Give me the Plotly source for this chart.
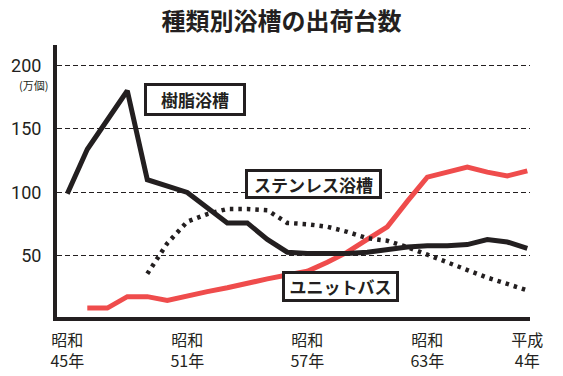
import plotly.graph_objects as go

years = [1970, 1971, 1972, 1973, 1974, 1975, 1976, 1977, 1978, 1979, 1980, 1981,
         1982, 1983, 1984, 1985, 1986, 1987, 1988, 1989, 1990, 1991, 1992, 1993]

resin = [99, 134, 157, 180, 110, 105, 100, 88, 76, 76, 63, 53,
         52, 52, 52, 53, 55, 57, 58, 58, 59, 63, 61, 56]

stainless = [None, None, None, None, 36, 60, 77, 83, 87, 87, 86, 76,
             75, 73, 69, 64, 62, 57, 51, 45, 39, 33, 28, 23]

unit_bath = [None, 9, 9, 18, 18, 15, 19, 22, 25, 29, 32, 35,
             38, 45, 53, 63, 73, 93, 112, 116, 120, 116, 113, 117]

tick_years = [1970, 1976, 1982, 1988, 1993]
tick_text = ["昭和<br>45年", "昭和<br>51年", "昭和<br>57年", "昭和<br>63年", "平成<br>4年"]

y_ticks = [50, 100, 150, 200]

title_text = "種類別浴槽の出荷台数"
unit_text = "(万個)"

BLACK = "#231f20"
RED = "#ef4c4c"
CJK = "Noto Sans CJK JP"

fig = go.Figure()
fig.add_trace(go.Scatter(x=years, y=unit_bath, mode="lines",
                         line=dict(color=RED, width=5), connectgaps=False,
                         name="ユニットバス"))
fig.add_trace(go.Scatter(x=years, y=stainless, mode="lines",
                         line=dict(color=BLACK, width=4.5, dash="3.5px,5px"),
                         name="ステンレス浴槽"))
fig.add_trace(go.Scatter(x=years, y=resin, mode="lines",
                         line=dict(color=BLACK, width=5), name="樹脂浴槽"))

fig.update_layout(
    width=563, height=376,
    margin=dict(l=57, r=33, t=45, b=59, autoexpand=False),
    paper_bgcolor="white", plot_bgcolor="white",
    showlegend=False,
    font=dict(family=CJK, color=BLACK),
    title=dict(text=title_text, x=0.5, xanchor="center", y=1 - 21.7 / 376,
               yanchor="middle", yref="container",
               font=dict(family=CJK, size=24, weight="bold", color=BLACK)),
    xaxis=dict(range=[1969.485, 1993.135], showgrid=False, zeroline=False,
               automargin=False,
               showline=True, linecolor=BLACK, linewidth=4,
               tickmode="array", tickvals=tick_years, ticktext=tick_text,
               ticks="", ticklabelstandoff=6,
               tickfont=dict(family=CJK, size=16, color=BLACK)),
    yaxis=dict(range=[2, 216], showgrid=True, gridcolor=BLACK, gridwidth=1,
               griddash="5px,3px", zeroline=False, automargin=False,
               showline=True, linecolor=BLACK, linewidth=4,
               tickmode="array", tickvals=y_ticks, ticks="",
               ticklabelstandoff=8,
               tickfont=dict(family="Roboto", size=18, color=BLACK)),
)

box_labels = [
    dict(text="樹脂浴槽", x=1976.36, y=173, w=96, h=27),
    dict(text="ステンレス浴槽", x=1982.31, y=106.5, w=131, h=24),
    dict(text="ユニットバス", x=1983.64, y=26.2, w=111, h=25),
]
for b in box_labels:
    fig.add_annotation(x=b["x"], y=b["y"], xref="x", yref="y", text=b["text"],
                       showarrow=False, bgcolor="white", bordercolor=BLACK,
                       borderwidth=3, borderpad=0, width=b["w"], height=b["h"],
                       font=dict(family=CJK, size=17, weight="bold", color=BLACK))

# unit label just under the "200" tick label (paper coords relative to plot area)
fig.add_annotation(x=(33 - 57) / 473, y=(317 - 85) / 272, xref="paper", yref="paper",
                   text=unit_text, showarrow=False, xanchor="center", yanchor="middle",
                   font=dict(family=CJK, size=11, color=BLACK))

fig.write_html("out.html", config={"displayModeBar": False},
               post_script="document.body.style.margin='0';document.body.style.overflow='hidden';")
